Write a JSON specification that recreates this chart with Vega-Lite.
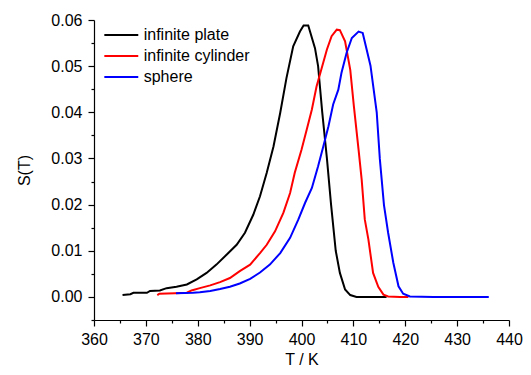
{
  "$schema": "https://vega.github.io/schema/vega-lite/v6.json",
  "width": 415,
  "height": 300,
  "autosize": {"type": "none"},
  "padding": {"left": 94, "top": 20, "right": 22, "bottom": 55},
  "background": "white",
  "config": {
    "view": {"stroke": null},
    "font": "Liberation Sans",
    "axis": {"labelFont": "Liberation Sans", "titleFont": "Liberation Sans", "labelColor": "#000", "titleColor": "#000", "domainColor": "#000", "tickColor": "#000", "grid": false, "domainWidth": 1.2, "tickWidth": 1.2},
    "legend": {"labelFont": "Liberation Sans"}
  },
  "data": {"values": [
    {"series": "infinite plate", "T": 365.5, "S": 0.0004},
    {"series": "infinite plate", "T": 367.0, "S": 0.0006},
    {"series": "infinite plate", "T": 367.6, "S": 0.0009},
    {"series": "infinite plate", "T": 370.2, "S": 0.0009},
    {"series": "infinite plate", "T": 370.8, "S": 0.0013},
    {"series": "infinite plate", "T": 372.7, "S": 0.0014},
    {"series": "infinite plate", "T": 374.0, "S": 0.0019},
    {"series": "infinite plate", "T": 375.9, "S": 0.0022},
    {"series": "infinite plate", "T": 377.9, "S": 0.0027},
    {"series": "infinite plate", "T": 379.8, "S": 0.0038},
    {"series": "infinite plate", "T": 381.7, "S": 0.0052},
    {"series": "infinite plate", "T": 383.6, "S": 0.0070},
    {"series": "infinite plate", "T": 385.6, "S": 0.0092},
    {"series": "infinite plate", "T": 387.5, "S": 0.0113},
    {"series": "infinite plate", "T": 389.1, "S": 0.0139},
    {"series": "infinite plate", "T": 390.7, "S": 0.0178},
    {"series": "infinite plate", "T": 392.0, "S": 0.0218},
    {"series": "infinite plate", "T": 393.3, "S": 0.0269},
    {"series": "infinite plate", "T": 394.6, "S": 0.0326},
    {"series": "infinite plate", "T": 395.9, "S": 0.0399},
    {"series": "infinite plate", "T": 397.1, "S": 0.0474},
    {"series": "infinite plate", "T": 398.4, "S": 0.0543},
    {"series": "infinite plate", "T": 399.7, "S": 0.0575},
    {"series": "infinite plate", "T": 400.4, "S": 0.0588},
    {"series": "infinite plate", "T": 401.3, "S": 0.0588},
    {"series": "infinite plate", "T": 402.6, "S": 0.0539},
    {"series": "infinite plate", "T": 403.2, "S": 0.0500},
    {"series": "infinite plate", "T": 404.0, "S": 0.0400},
    {"series": "infinite plate", "T": 404.9, "S": 0.0300},
    {"series": "infinite plate", "T": 405.7, "S": 0.0200},
    {"series": "infinite plate", "T": 406.6, "S": 0.0100},
    {"series": "infinite plate", "T": 407.4, "S": 0.0052},
    {"series": "infinite plate", "T": 408.4, "S": 0.0016},
    {"series": "infinite plate", "T": 409.4, "S": 0.0004},
    {"series": "infinite plate", "T": 410.6, "S": 0.0},
    {"series": "infinite plate", "T": 416.4, "S": 0.0},
    {"series": "infinite cylinder", "T": 372.2, "S": 0.0004},
    {"series": "infinite cylinder", "T": 372.6, "S": 0.0007},
    {"series": "infinite cylinder", "T": 375.6, "S": 0.0008},
    {"series": "infinite cylinder", "T": 377.9, "S": 0.0009},
    {"series": "infinite cylinder", "T": 378.8, "S": 0.0014},
    {"series": "infinite cylinder", "T": 380.4, "S": 0.0019},
    {"series": "infinite cylinder", "T": 382.4, "S": 0.0025},
    {"series": "infinite cylinder", "T": 384.3, "S": 0.0032},
    {"series": "infinite cylinder", "T": 386.2, "S": 0.0041},
    {"series": "infinite cylinder", "T": 388.1, "S": 0.0056},
    {"series": "infinite cylinder", "T": 390.1, "S": 0.0070},
    {"series": "infinite cylinder", "T": 392.0, "S": 0.0095},
    {"series": "infinite cylinder", "T": 393.3, "S": 0.0113},
    {"series": "infinite cylinder", "T": 394.9, "S": 0.0142},
    {"series": "infinite cylinder", "T": 396.5, "S": 0.0182},
    {"series": "infinite cylinder", "T": 397.8, "S": 0.0225},
    {"series": "infinite cylinder", "T": 398.7, "S": 0.0269},
    {"series": "infinite cylinder", "T": 400.0, "S": 0.0319},
    {"series": "infinite cylinder", "T": 401.0, "S": 0.0362},
    {"series": "infinite cylinder", "T": 402.0, "S": 0.0406},
    {"series": "infinite cylinder", "T": 402.9, "S": 0.0456},
    {"series": "infinite cylinder", "T": 403.9, "S": 0.0496},
    {"series": "infinite cylinder", "T": 404.9, "S": 0.0536},
    {"series": "infinite cylinder", "T": 405.8, "S": 0.0565},
    {"series": "infinite cylinder", "T": 406.8, "S": 0.0579},
    {"series": "infinite cylinder", "T": 407.4, "S": 0.0578},
    {"series": "infinite cylinder", "T": 408.4, "S": 0.0554},
    {"series": "infinite cylinder", "T": 409.4, "S": 0.0492},
    {"series": "infinite cylinder", "T": 410.1, "S": 0.0413},
    {"series": "infinite cylinder", "T": 411.0, "S": 0.0319},
    {"series": "infinite cylinder", "T": 411.6, "S": 0.0254},
    {"series": "infinite cylinder", "T": 412.2, "S": 0.0168},
    {"series": "infinite cylinder", "T": 412.9, "S": 0.0124},
    {"series": "infinite cylinder", "T": 413.8, "S": 0.0052},
    {"series": "infinite cylinder", "T": 414.8, "S": 0.0022},
    {"series": "infinite cylinder", "T": 415.8, "S": 0.0005},
    {"series": "infinite cylinder", "T": 416.7, "S": 0.0001},
    {"series": "infinite cylinder", "T": 419.0, "S": 0.0},
    {"series": "infinite cylinder", "T": 420.6, "S": 0.0},
    {"series": "sphere", "T": 375.8, "S": 0.0008},
    {"series": "sphere", "T": 379.1, "S": 0.0009},
    {"series": "sphere", "T": 380.4, "S": 0.0010},
    {"series": "sphere", "T": 382.4, "S": 0.0013},
    {"series": "sphere", "T": 384.3, "S": 0.0017},
    {"series": "sphere", "T": 386.2, "S": 0.0022},
    {"series": "sphere", "T": 388.1, "S": 0.0029},
    {"series": "sphere", "T": 390.1, "S": 0.0039},
    {"series": "sphere", "T": 392.0, "S": 0.0053},
    {"series": "sphere", "T": 393.9, "S": 0.0070},
    {"series": "sphere", "T": 395.9, "S": 0.0095},
    {"series": "sphere", "T": 397.8, "S": 0.0128},
    {"series": "sphere", "T": 399.4, "S": 0.0168},
    {"series": "sphere", "T": 400.7, "S": 0.0204},
    {"series": "sphere", "T": 402.0, "S": 0.0236},
    {"series": "sphere", "T": 403.2, "S": 0.0283},
    {"series": "sphere", "T": 404.2, "S": 0.0326},
    {"series": "sphere", "T": 405.2, "S": 0.0370},
    {"series": "sphere", "T": 406.1, "S": 0.0417},
    {"series": "sphere", "T": 407.1, "S": 0.0449},
    {"series": "sphere", "T": 407.7, "S": 0.0485},
    {"series": "sphere", "T": 408.7, "S": 0.0529},
    {"series": "sphere", "T": 409.7, "S": 0.0561},
    {"series": "sphere", "T": 411.0, "S": 0.0575},
    {"series": "sphere", "T": 411.8, "S": 0.0572},
    {"series": "sphere", "T": 413.3, "S": 0.0501},
    {"series": "sphere", "T": 414.5, "S": 0.0400},
    {"series": "sphere", "T": 415.1, "S": 0.0299},
    {"series": "sphere", "T": 415.9, "S": 0.0199},
    {"series": "sphere", "T": 416.7, "S": 0.0139},
    {"series": "sphere", "T": 417.7, "S": 0.0074},
    {"series": "sphere", "T": 418.7, "S": 0.0023},
    {"series": "sphere", "T": 419.6, "S": 0.0007},
    {"series": "sphere", "T": 420.9, "S": 0.0001},
    {"series": "sphere", "T": 425.4, "S": 0.0},
    {"series": "sphere", "T": 436.1, "S": 0.0}
  ]},
  "layer": [
    {
      "mark": {"type": "line", "strokeWidth": 2, "interpolate": "linear"},
      "encoding": {
        "x": {"field": "T", "type": "quantitative",
          "scale": {"domain": [360, 440], "nice": false, "zero": false},
          "axis": {"orient": "bottom", "values": [360, 370, 380, 390, 400, 410, 420, 430, 440], "format": "d", "title": "T / K", "labelFontSize": 16, "titleFontSize": 16, "titleFontWeight": "normal", "tickSize": 6, "labelPadding": 5, "titlePadding": 4, "labelFlush": false}},
        "y": {"field": "S", "type": "quantitative",
          "scale": {"domain": [-0.005, 0.06], "nice": false, "zero": false},
          "axis": {"orient": "left", "values": [0, 0.01, 0.02, 0.03, 0.04, 0.05, 0.06], "format": ".2f", "title": "S(T)", "labelFontSize": 16, "titleFontSize": 16, "titleFontWeight": "normal", "tickSize": 6, "labelPadding": 6, "titlePadding": 18}},
        "color": {"field": "series", "type": "nominal",
          "scale": {"domain": ["infinite plate", "infinite cylinder", "sphere"], "range": ["#000000", "#ff0000", "#0000ff"]},
          "legend": {"title": null, "orient": "none", "legendX": 19.3, "legendY": 7, "symbolType": "M-3,0H3", "symbolSize": 128, "symbolStrokeWidth": 2, "labelFontSize": 16, "labelColor": "#000", "labelOffset": 14.4, "rowPadding": 5}},
        "order": {"field": "T", "type": "quantitative"}
      }
    },
    {
      "mark": {"type": "line", "opacity": 0},
      "encoding": {
        "x": {"field": "T", "type": "quantitative",
          "scale": {"domain": [360, 440], "nice": false, "zero": false},
          "axis": {"orient": "bottom", "values": [365, 375, 385, 395, 405, 415, 425, 435], "labels": false, "domain": false, "title": null, "tickSize": 3}},
        "y": {"field": "S", "type": "quantitative",
          "scale": {"domain": [-0.005, 0.06], "nice": false, "zero": false},
          "axis": {"orient": "left", "values": [-0.005, 0.005, 0.015, 0.025, 0.035, 0.045, 0.055], "labels": false, "domain": false, "title": null, "tickSize": 3}},
        "detail": {"field": "series"}
      }
    }
  ],
  "resolve": {"axis": {"x": "independent", "y": "independent"}}
}
